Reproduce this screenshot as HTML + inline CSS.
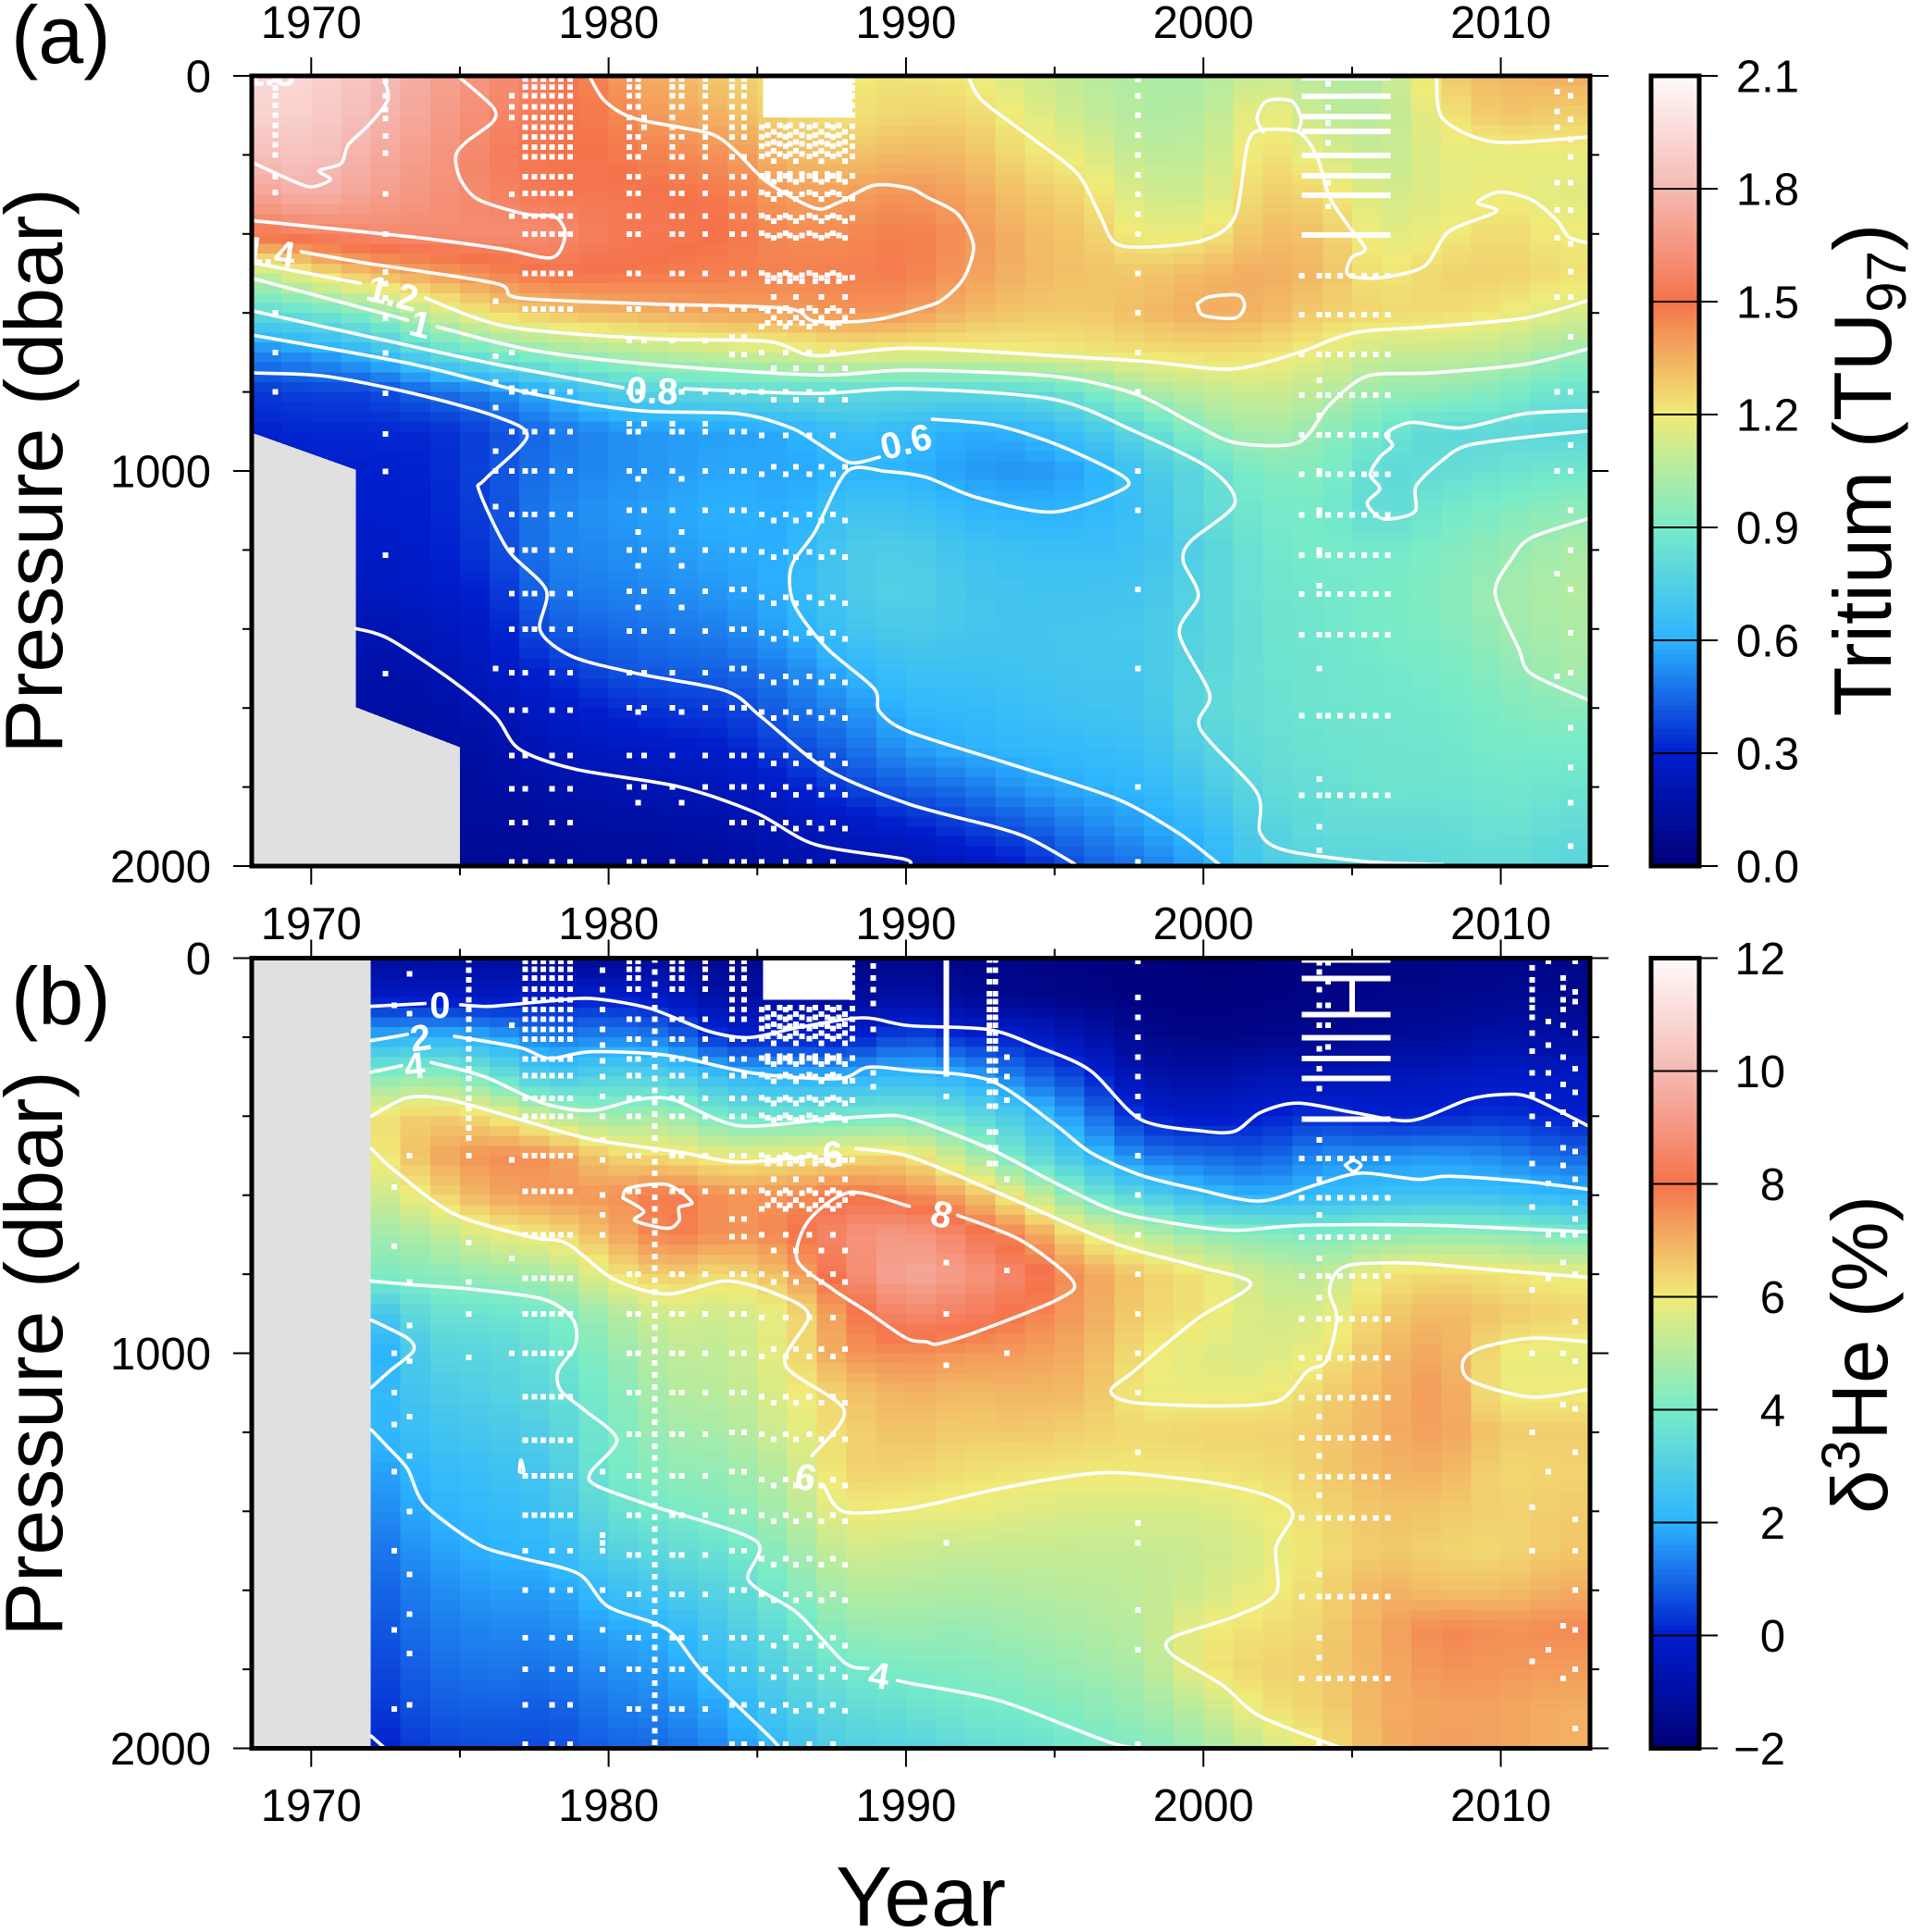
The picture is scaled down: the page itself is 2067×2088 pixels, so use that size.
<!DOCTYPE html>
<html lang="en">
<head>
<meta charset="utf-8">
<title>Tritium and delta-3He sections</title>
<style>
html,body{margin:0;padding:0;background:#fff;}
svg{display:block;font-family:"Liberation Sans",sans-serif;}
</style>
</head>
<body>
<svg id="chart" xmlns="http://www.w3.org/2000/svg" width="2067" height="2088" viewBox="0 0 2067 2088">
<defs>
<clipPath id="clip-a"><rect x="272" y="82" width="1446" height="854"/></clipPath>
<clipPath id="clip-b"><rect x="272" y="1035.5" width="1446" height="854"/></clipPath>
</defs>
<rect width="2067" height="2088" fill="#fff"/>
<g id="heat-a" clip-path="url(#clip-a)" shape-rendering="crispEdges"></g>
<g id="heat-b" clip-path="url(#clip-b)" shape-rendering="crispEdges"></g>
<g id="dots-a" clip-path="url(#clip-a)" shape-rendering="crispEdges"></g>
<g id="dots-b" clip-path="url(#clip-b)" shape-rendering="crispEdges"></g>
<g id="contours-a" clip-path="url(#clip-a)"></g>
<g id="contours-b" clip-path="url(#clip-b)"></g>
<g id="axes"></g>
<g id="bars"></g>
<text x="12" y="68" font-size="88">(a)</text>
<text x="12" y="1107" font-size="88">(b)</text>
<text transform="translate(67,509) rotate(-90)" text-anchor="middle" font-size="88">Pressure (dbar)</text>
<text transform="translate(67,1463) rotate(-90)" text-anchor="middle" font-size="88">Pressure (dbar)</text>
<text x="995" y="2081" text-anchor="middle" font-size="91">Year</text>
<text transform="translate(2043,508) rotate(-90)" text-anchor="middle" font-size="88">Tritium (TU<tspan font-size="60" dy="16">97</tspan><tspan dy="-16">)</tspan></text>
<text transform="translate(2039,1464) rotate(-90)" text-anchor="middle" font-size="85" font-family="'Liberation Sans','DejaVu Sans',sans-serif">δ<tspan font-size="58" dy="-30">3</tspan><tspan dy="30">He (%)</tspan></text>
</svg>
<script>
/* ---------- axis tick data ---------- */
const yearMajorTicks = [1970,1980,1990,2000,2010];
const yearMinorTicks = [1975,1985,1995,2005];
const pressureMajorTicks = [0,1000,2000];
const pressureMinorTicks = [200,400,600,800,1200,1400,1600,1800];

/* ---------- heatmap grid axes ---------- */
const gridPressures = [0,100,200,300,400,500,600,700,800,900,1000,1100,1200,1300,1400,1500,1600,1700,1800,1900,2000];
const tritiumGridYears = [1968,1970,1972,1974,1976,1978,1980,1982,1984,1986,1988,1990,1992,1994,1996,1998,2000,2002,2004,2006,2008,2010,2012,2014];
const heliumGridYears = [1972,1974,1976,1978,1980,1982,1984,1986,1988,1990,1992,1994,1996,1998,2000,2002,2004,2006,2008,2010,2012,2014];

/* ---------- tritium (TU97), one row per grid year, top to bottom ---------- */
const tritiumValues = [
[1.95,1.92,1.82,1.70,1.52,1.05,.80,.50,.35,.30,.28,.27,.26,.25,.24,.22,.20,.18,.16,.14,.12],
[1.93,1.90,1.85,1.77,1.57,1.22,.85,.55,.37,.32,.30,.28,.27,.26,.24,.22,.20,.18,.16,.14,.12],
[1.83,1.80,1.75,1.70,1.60,1.33,.95,.63,.37,.32,.30,.29,.27,.24,.20,.17,.15,.14,.12,.11,.10],
[1.72,1.70,1.67,1.64,1.61,1.39,1.10,.80,.45,.32,.31,.30,.29,.27,.23,.19,.16,.14,.12,.11,.10],
[1.62,1.60,1.56,1.58,1.61,1.45,1.24,.90,.50,.38,.39,.38,.36,.32,.28,.25,.20,.16,.14,.12,.10],
[1.55,1.52,1.50,1.52,1.61,1.50,1.30,.98,.60,.47,.48,.50,.50,.47,.42,.33,.27,.22,.17,.13,.10],
[1.43,1.47,1.50,1.52,1.53,1.50,1.33,1.03,.72,.52,.52,.54,.52,.50,.45,.40,.32,.25,.19,.15,.12],
[1.33,1.38,1.45,1.50,1.52,1.48,1.36,1.08,.78,.55,.55,.57,.55,.52,.48,.43,.35,.28,.21,.15,.12],
[1.28,1.33,1.42,1.48,1.50,1.47,1.38,1.12,.80,.56,.58,.60,.58,.55,.50,.44,.36,.30,.23,.17,.13],
[1.22,1.25,1.32,1.39,1.44,1.46,1.39,1.14,.82,.58,.57,.58,.59,.60,.58,.50,.45,.38,.29,.22,.17],
[1.20,1.22,1.30,1.39,1.44,1.47,1.42,1.20,.80,.66,.60,.68,.72,.72,.68,.60,.52,.45,.37,.25,.19],
[1.22,1.26,1.33,1.42,1.48,1.48,1.41,1.18,.79,.63,.60,.68,.74,.76,.73,.67,.62,.55,.43,.30,.19],
[1.20,1.26,1.32,1.38,1.42,1.40,1.33,1.18,.79,.58,.55,.62,.68,.70,.70,.67,.63,.60,.47,.36,.24],
[1.13,1.18,1.23,1.29,1.33,1.33,1.29,1.19,.80,.60,.53,.60,.66,.68,.69,.68,.66,.62,.55,.42,.30],
[1.07,1.10,1.17,1.25,1.29,1.30,1.28,1.21,.88,.68,.57,.61,.65,.68,.70,.70,.68,.64,.59,.50,.42],
[1.03,1.04,1.07,1.12,1.18,1.29,1.32,1.23,1.02,.80,.70,.66,.67,.69,.71,.70,.69,.66,.62,.56,.48],
[1.03,1.05,1.08,1.12,1.19,1.33,1.36,1.24,1.08,.95,.81,.81,.76,.78,.77,.78,.80,.76,.70,.63,.58],
[1.12,1.21,1.24,1.28,1.32,1.36,1.34,1.23,1.12,1.03,.93,.89,.87,.86,.85,.85,.84,.83,.81,.76,.72],
[1.05,1.08,1.16,1.25,1.30,1.32,1.27,1.18,1.07,.97,.93,.90,.90,.88,.87,.86,.86,.85,.83,.82,.78],
[1.05,1.06,1.08,1.12,1.16,1.20,1.25,1.10,.98,.87,.80,.80,.88,.90,.90,.88,.87,.86,.86,.82,.78],
[1.27,1.20,1.17,1.16,1.19,1.26,1.24,1.10,.97,.79,.82,.88,.92,.93,.92,.90,.88,.87,.85,.82,.80],
[1.33,1.30,1.17,1.20,1.25,1.27,1.21,1.08,.92,.80,.85,.92,.97,1.00,.99,.95,.92,.90,.88,.85,.82],
[1.35,1.27,1.18,1.16,1.20,1.23,1.15,1.00,.85,.78,.87,.96,1.02,1.04,1.03,1.01,.95,.90,.86,.82,.78],
[1.36,1.26,1.18,1.16,1.20,1.22,1.13,.97,.84,.78,.88,.97,1.04,1.06,1.05,1.02,.95,.89,.85,.81,.77]
];

/* ---------- delta-3He (%), one row per grid year, top to bottom ---------- */
const heliumValues = [
[-1.2,-.2,1.9,4.2,6.0,5.8,5.2,4.6,4.1,2.4,1.6,2.0,2.0,1.6,1.3,1.0,.8,.6,.4,.2,-.1],
[-1.1,-.3,2.1,4.6,6.6,7.0,6.2,5.0,4.3,3.6,3.1,2.8,2.5,2.2,2.0,1.7,1.4,1.2,1.0,.8,.5],
[-1.1,-.3,1.9,3.9,6.2,7.6,7.1,5.8,4.6,3.7,3.2,3.0,2.7,2.4,2.2,2.0,1.7,1.4,1.2,.9,.6],
[-1.3,-.1,1.2,2.6,5.2,7.5,7.4,6.1,4.8,3.9,3.6,3.3,3.0,2.7,2.4,2.1,1.7,1.4,1.1,.8,.6],
[-1.4,0,1.4,3.1,4.6,6.4,7.4,6.9,6.0,4.8,4.4,4.1,4.0,3.9,3.5,3.0,2.3,1.8,1.5,1.2,.9],
[-1.2,-.3,1.2,3.0,4.8,6.2,8.0,7.9,6.6,5.6,5.2,5.0,4.7,4.4,4.0,3.4,2.8,2.0,1.7,1.4,1.0],
[-1.5,-1.0,0,2.2,3.8,5.8,7.4,7.4,6.2,5.4,5.2,5.1,4.8,4.5,4.2,3.7,3.2,2.8,2.4,1.9,1.5],
[-1.5,-1.0,.1,2.0,3.7,6.0,7.5,7.7,6.9,5.9,6.0,5.8,5.6,5.2,4.9,4.5,4.1,3.6,3.2,2.8,2.4],
[-1.7,-1.2,-.2,2.0,3.9,6.2,8.0,8.8,8.5,7.7,7.4,6.6,6.4,6.4,6.0,5.5,5.0,4.5,3.9,3.4,3.0],
[-1.6,-.9,.7,2.3,4.0,6.3,7.7,9.2,9.6,8.7,7.6,7.0,6.7,6.4,5.9,5.4,5.0,4.6,4.1,3.6,3.1],
[-1.7,-1.3,.1,2.0,3.5,5.1,7.0,8.4,9.1,8.4,7.4,6.8,6.5,6.2,5.9,5.3,4.9,4.5,4.2,3.9,3.4],
[-1.7,-1.5,0,1.1,2.6,3.6,5.6,7.5,8.4,7.9,7.3,6.9,6.6,6.1,5.7,5.3,5.0,4.7,4.4,4.0,3.6],
[-1.8,-1.7,-.7,.4,1.4,2.4,4.0,6.0,7.3,7.2,7.0,6.8,6.4,6.05,5.6,5.3,5.1,4.9,4.6,4.3,3.9],
[-1.9,-1.8,-1.5,-.8,0,1.2,3.0,5.2,6.5,6.4,6.1,5.9,6.3,6.05,5.6,5.3,5.2,5.1,4.9,4.6,4.2],
[-2.0,-1.9,-1.7,-1.0,-.2,1.0,2.2,4.5,6.1,6.1,5.7,5.9,6.4,6.1,5.6,5.4,5.5,6.0,6.05,5.2,4.7],
[-2.0,-1.8,-1.6,-.6,0,.8,1.9,4.3,5.3,5.5,5.6,5.9,6.4,6.2,5.9,5.7,5.9,6.2,6.4,6.1,5.4],
[-1.8,-1.7,-1.5,-.6,.3,1.5,2.2,4.1,5.1,5.6,5.95,6.4,6.5,6.5,6.3,6.2,6.3,6.4,6.5,6.4,6.1],
[-1.7,-1.6,-1.3,-.5,0,1.5,2.4,4.4,6.1,6.5,6.8,6.9,7.0,6.9,6.7,6.6,7.0,7.1,7.0,7.0,7.0],
[-1.7,-1.6,-1.2,-.4,.1,1.6,2.5,4.5,6.3,6.9,7.2,7.4,7.3,7.0,6.6,6.4,6.7,7.7,7.5,7.2,7.3],
[-1.6,-1.4,-.9,-.2,.3,1.4,2.4,4.5,6.1,6.6,6.0,5.9,6.5,6.3,6.4,6.3,6.7,7.5,7.4,7.2,7.2],
[-1.6,-1.5,-1.0,-.3,0,1.0,2.1,4.1,5.9,6.4,5.8,6.0,6.5,6.4,6.5,6.6,7.0,7.6,7.3,7.0,7.0],
[-1.6,-1.5,-1.0,-.3,0,.9,2.0,4.0,5.8,6.4,5.8,6.0,6.5,6.4,6.6,6.7,7.1,7.6,7.3,7.0,7.0]
];

/* ---------- missing-data masks (year, pressure) ---------- */
const tritiumMask = [[1968,903],[1971.5,997],[1971.5,1598],[1975,1699],[1975,2000],[1968,2000]];
const heliumMask = [[1968,0],[1972,0],[1972,2000],[1968,2000]];

/* ---------- tritium contour lines (year, pressure) ---------- */
const tritiumContours = [
[[1968.1,222],[1969.27,262],[1970,281],[1970.65,262],[1970.26,240],[1971,222],[1971.25,174],[1971.95,123],[1972.58,60],[1972.44,6],[1972.4,0]],
[[1975.02,6],[1976.11,79],[1976.11,116],[1975.22,167],[1974.86,203],[1975.02,262],[1975.62,313],[1977.2,350],[1978.2,357],[1978.54,401],[1978.1,460],[1976.41,438],[1973.43,408],[1968.1,367]],
[[1979.39,6],[1979.88,64],[1980.88,108],[1983.36,145],[1984.25,189],[1985.34,269],[1986.93,335],[1987.72,321],[1988.92,277],[1990.1,284],[1990.68,306],[1991.74,350],[1992.27,430],[1991.95,511],[1991.31,562],[1990.68,584],[1988.92,618],[1986.93,621],[1985.94,588],[1981.37,577],[1977,562],[1976.2,525],[1971.85,474],[1969.66,445]],
[[1999.79,577],[2000,606],[2001.06,613],[2001.38,584],[2001.17,555],[2000.21,559],[1999.79,577]],
[[1968.1,474],[1971.65,525]],
[[1973.83,562],[1976.61,635],[1981.37,665],[1985.34,672],[1986.93,708],[1990.1,689],[1994.92,708],[1998.09,723],[2000.95,742],[2003.18,701],[2005.08,650],[2007.63,635],[2010.81,613],[2012.92,569]],
[[1992.12,6],[1992.58,64],[1994.28,160],[1995.76,247],[1996.5,350],[1997.03,423],[1998.09,433],[2000,416],[2001.06,357],[2001.48,174],[2001.91,138],[2003.18,142],[2003.81,203],[2004.24,306],[2004.87,379],[2005.44,438],[2004.98,460],[2004.87,504],[2005.93,511],[2007.42,482],[2008.26,394],[2009.85,343],[2009.22,321],[2009.96,294],[2011.02,313],[2011.86,364],[2012.29,408],[2012.92,423]],
[[2003.18,142],[2003.28,108],[2002.97,64],[2002.12,64],[2001.8,108],[2002.01,142]],
[[2007.84,6],[2008.05,108],[2009.75,167],[2012.92,155]],
[[1968.1,514],[1973.24,618]],
[[1974.23,635],[1977.4,694],[1981.37,730],[1986.93,757],[1990.1,745],[1994.92,760],[1997.67,804],[1999.58,877],[2001.06,928],[2003.18,928],[2004.24,833],[2005.51,760],[2007.63,752],[2010.81,730],[2012.92,691]],
[[2012.92,1121],[2011.02,1169],[2010.38,1221],[2009.81,1309],[2010.59,1448],[2011.02,1513],[2012.92,1579]],
[[1968.1,596],[1972.64,672],[1976.21,730],[1980.48,789]],
[[1982.56,792],[1986.93,804],[1990.1,792],[1994.92,818],[1997.67,899],[2000.21,994],[2001.06,1082],[1999.58,1177],[1999.32,1228],[1999.83,1316],[1999.19,1411],[2000.21,1565],[1999.89,1652],[2001.8,1814],[2001.91,1916],[2002.75,1960],[2005.51,1989],[2008.05,1996]],
[[2012.92,847],[2010.81,855],[2008.69,891],[2006.99,877],[2006.14,906],[2006.36,935],[2005.93,965],[2005.61,1009],[2005.93,1045],[2005.51,1082],[2006.04,1121],[2007.1,1104],[2007.16,1038],[2008.05,972],[2008.9,935],[2011.02,913],[2012.92,899]],
[[1968.1,657],[1973.43,730],[1977.4,804],[1980.98,847],[1984.35,855],[1986.14,891],[1987.13,935],[1988.12,979],[1989.11,965]],
[[1990.89,869],[1993,884],[1995.13,935],[1997.35,1016],[1997.14,1052],[1994.92,1104],[1992.37,1067],[1990.68,1016],[1989.31,1001],[1988.02,1001],[1986.93,1155],[1986.14,1243],[1986.24,1338],[1987.33,1448],[1988.92,1550],[1989.11,1609],[1990.1,1660],[1993.43,1740],[1997.03,1828],[1999.15,1916],[2000.42,1989],[2000.6,2000]],
[[1968.1,752],[1970.46,760],[1973.43,804],[1976.21,862],[1977.26,913],[1975.82,1023],[1975.66,1052],[1976.61,1199],[1977.9,1301],[1977.7,1404],[1978.79,1470],[1980.98,1513],[1983.95,1557],[1985.14,1623],[1987.33,1755],[1990.1,1843],[1993,1901],[1994.17,1931],[1995.55,1989],[1995.7,2000]],
[[1971.51,1399],[1972.64,1426],[1974.82,1535],[1976.21,1623],[1977,1704],[1978.89,1755],[1982.37,1799],[1984.95,1865],[1986.93,1945],[1989.91,1982],[1990.1,2000]]
];

/* ---------- helium contour lines (year, pressure) ---------- */
const heliumContours = [
[[1972.02,122],[1973.83,115]],
[[1975.02,118],[1976.01,122],[1977.8,110],[1979.39,102],[1981.37,127],[1983.36,185],[1984.75,201],[1986.34,176],[1988.52,151],[1990.11,171],[1992.8,181],[1994.49,226],[1996.19,284],[1997.88,408],[2000,438],[2001.06,438],[2001.91,391],[2003.18,367],[2005.08,391],[2006.99,411],[2008.9,358],[2010.06,345],[2011.02,353],[2012.92,424]],
[[1972.02,209],[1973.24,193]],
[[1974.82,198],[1977,226],[1978,254],[1979.39,237],[1981.97,246],[1984.95,292],[1987.73,305],[1988.72,276],[1990.11,284],[1992.8,309],[1994.92,416],[1996.19,491],[1997.88,549],[1999.79,585],[2001.91,615],[2003.81,573],[2005.3,544],[2007.2,560],[2008.26,552],[2010.81,565],[2012.92,585]],
[[1972.02,289],[1973.04,272]],
[[1974.03,264],[1975.82,300],[1977.8,367],[1979.39,386],[1980.98,358],[1982.17,358],[1984.35,424],[1987.33,408],[1988.92,400],[1990.11,405],[1992.8,482],[1994.92,565],[1997.03,640],[1999.15,673],[2001.06,689],[2003.39,676],[2007.63,676],[2012.92,693]],
[[1972.02,400],[1973.24,353],[1974.62,358],[1977,408],[1979.39,458],[1982.37,491],[1984.35,516],[1986.73,502]],
[[1988.32,482],[1990.11,502],[1993.22,598],[1997.03,722],[1999.79,780],[2001.59,825],[1999.79,913],[1997.67,1045],[1996.89,1095],[1997.67,1125],[2000.64,1133],[2002.54,1120],[2003.5,1045],[2004.13,1020],[2004.49,913],[2004.24,846],[2004.45,797],[2005.08,775],[2006.99,772],[2009.75,789],[2012.92,808]],
[[1972.02,482],[1972.84,540],[1974.82,648],[1977.4,706],[1978.59,722],[1980.18,813],[1981.97,850],[1983.95,817],[1985.54,847],[1986.73,904],[1985.94,1029],[1987.92,1144],[1986.83,1260]],
[[1987.23,1335],[1987.92,1401],[1990.11,1393],[1992.8,1348],[1994.92,1318],[1997.03,1302],[2000.21,1327],[2002.12,1360],[2003.01,1406],[2002.44,1492],[2002.44,1608],[2001.06,1666],[1998.94,1720],[1998.94,1762],[2000.64,1840],[2001.91,1919],[2004.56,1997]],
[[1980.48,607],[1980.68,582],[1981.97,573],[1982.8,618],[1982.37,631],[1982.37,664],[1981.97,684],[1980.88,664],[1981.18,640],[1980.48,607]],
[[1990.11,628],[1988.12,593],[1986.73,664],[1986.34,764],[1987.53,838],[1988.72,896],[1990.01,962],[1990.68,971],[1991.1,976],[1992.48,943],[1995.13,863],[1995.61,817],[1993.86,714],[1991.74,651]],
[[2012.92,971],[2011.02,962],[2009.32,987],[2008.73,1020],[2009,1070],[2011.02,1111],[2012.92,1092]],
[[1972.02,817],[1973.43,827],[1975.42,838],[1977.8,863],[1978.79,913],[1978.89,979],[1978.3,1045],[1978.4,1095],[1979.19,1144],[1980.28,1219],[1979.39,1302],[1979.59,1335],[1981.37,1384],[1984.95,1475],[1984.71,1575],[1986.34,1657],[1987.92,1782],[1988.72,1798]],
[[1989.71,1828],[1990.11,1835],[1993.22,1881],[1997.03,1989],[1998.73,2000]],
[[1972.02,916],[1973.24,962],[1973.43,995],[1972.64,1045],[1972.02,1087]],
[[1972.02,1194],[1972.54,1235],[1973.24,1293],[1973.83,1384],[1975.62,1484],[1977,1517],[1978.99,1558],[1979.98,1641],[1981.97,1699],[1983.16,1806],[1985.54,1980],[1985.64,2000]],
[[1972.02,1969],[1972.44,1997]],
[[2004.77,524],[2005.04,512],[2005.3,524],[2005.04,540],[2004.77,524]],
[[1977,1300],[1977.05,1270],[1977.15,1300],[1977,1300]]
];

/* ---------- contour labels: text, year, pressure, tilt ---------- */
const tritiumLabelText = ["1.8","1.4","1.2","1","0.8","0.6"];
const tritiumLabelYear = [1968.6,1968.6,1972.74,1973.67,1981.47,1990];
const tritiumLabelPressure = [-8,445,550,628,796,925];
const tritiumLabelTilt = [0,8,14,14,2,-14];
const heliumLabelText = ["0","2","4","6","6","4","8"];
const heliumLabelYear = [1974.33,1973.67,1973.47,1987.53,1986.63,1989.1,1991.2];
const heliumLabelPressure = [118,201,272,496,1313,1815,648];
const heliumLabelTilt = [0,-8,-6,-3,12,10,14];

/* ---------- sampling stations: years crossed with pressures ---------- */
const upperLevels = [8,28,50,78,105,130,155,180,205,255,298,355,400,500,590];
const tritiumStations = [
{years:[1968.8],p:[10,30,50,75,100,125,150,175,200,255,295,600,700,800]},
{years:[1972.5],p:[13,50,86,108,152,196,299,401,496,526,562,613,701,803,906,1001,1213,1513]},
{years:[1977.2,1977.5,1977.8,1978.1,1978.4,1978.7],p:upperLevels},
{years:[1976.75],p:[50,78,105,300,355,700,790]},
{years:[1976.2],p:[570,710,775,840,950,1000,1090,1500]},
{years:[1976.75,1977.2,1977.5,1978.1,1978.7],p:[800,900,1000,1110,1200,1310,1400]},
{years:[1976.75,1977.2,1978.1,1978.7],p:[1510,1605,1720,1805,1890,1990]},
{years:[1980.7,1981,1982.15,1982.45,1983.25],p:[8,28,50,78,155,205,255,298,355,400,500,590,800,900]},
{years:[1980.7,1981.2,1982.15,1983.25],p:[105,130,180,670,880,1000,1100,1200,1305,1405,1510,1600,1720,1800,1990]},
{years:[1981,1982.45],p:[1020,1155,1240,1345,1610,1840]},
{years:[1984.15,1984.55],p:[8,28,50,78,105,130,155,205,255,298,355,400,500,590,660,705,800,900,1000,1100,1200,1300,1400,1500,1600,1720,1800,1890,1990]},
{years:[1985.15,1985.95,1986.75,1987.55],p:[130,155,178,204,253,295,354,398,499,588,635,700,800,910,1008,1110,1205,1320,1410,1520,1610,1720,1800,1890,1990]},
{years:[1985.55,1986.3,1987.15,1987.95],p:[142,168,190,215,268,312,368,410,512,560,612,740,820,990,1125,1218,1335,1425,1535,1625,1740,1820,1905]},
{years:[1985.35,1985.75,1986.1,1986.5,1986.95,1987.35,1987.75],p:[125,150,172,198,248,262,300,358,404,505,520,595,625]},
{years:[1988.2],p:[10,30,50,75,100,128,155,178,204,253,310,360,510,595]},
{years:[1997.8],p:[8,50,100,150,200,250,300,350,400,500,600,700,800,1000,1100,1300,1500,1800,1990]},
{years:[2003.3,2003.9,2004.2,2004.6,2005,2005.4,2005.8,2006.2],p:[506,604,705,808,909,1008,1111,1213,1311,1414,1619,1821]},
{years:[2003.9],p:[770,860,1000,1100,1200,1290,1500,1780,1900,1960]},
{years:[2004.2],p:[20,80,120,170,270,330]},
{years:[2011.9],p:[40,90,130,270,340,410,560,800,1000,1260,1520]},
{years:[2012.35],p:[8,50,110,160,205,270,340,425,495,560,660,800,935,1000,1100,1200,1300,1410,1510,1650,1750,1840,1950]}
];
const heliumStations = [
{years:[1973.3],p:[40,140,500,820,930,1020,1160,1260,1400,1560,1660,1760,1890]},
{years:[1972.8],p:[120,580,730,1000,1100,1180,1300,1500,1700,1900]},
{years:[1975.3],p:[5,30,55,80,105,130,155,180,205,230,255,280,305,330,355,380,405,430,455,500,720,820,900,1010]},
{years:[1977.2,1977.5,1977.8,1978.1,1978.4,1978.7],p:upperLevels.concat([700,810,900,1000,1110,1220,1310,1410])},
{years:[1976.75],p:[170,510,760,1000]},
{years:[1977.2,1978.1,1978.7],p:[1500,1600,1720,1800,1890,1990]},
{years:[1979.8],p:[30,80,130,180,220,260,300,350,400,460,510,600,650,700,1300,1460,1480,1500,1600,1700,1800]},
{years:[1980.7,1981,1982.15,1982.45,1983.25],p:[8,28,50,78,155,205,255,298,355,400,500,590,800,900,1000,1100,1205,1310,1410,1510,1610,1720,1800,1900]},
{years:[1981.55],p:[5,35,65,95,125,155,185,215,245,275,305,335,365,395,425,455,485,515,545,575,605,635,665,695,725,755,785,815,845,875,905,935,965,995,1025,1055,1085,1115,1145,1175,1205,1235,1265,1295,1325,1355,1385,1415,1445,1475,1505,1535,1565,1595,1625,1655,1685,1715,1745,1775,1805,1835,1865,1895,1925,1955,1985]},
{years:[1984.15,1984.55],p:[8,28,50,78,105,130,155,205,255,298,355,400,500,590,660,705,800,900,1000,1100,1200,1300,1400,1500,1600,1720,1800,1890,1990]},
{years:[1985.15,1985.95,1986.75,1987.55],p:[130,155,178,204,253,295,354,398,499,588,635,700,800,910,1008,1110,1205,1320,1410,1520,1610,1720,1800,1890,1990]},
{years:[1985.55,1986.3,1987.15,1987.95],p:[142,168,190,215,268,312,368,410,512,560,612,740,820,990,1125,1218,1335,1425,1535,1625,1740,1820,1905]},
{years:[1985.35,1985.75,1986.1,1986.5,1986.95,1987.35,1987.75],p:[125,150,172,198,248,262,300,358,404,505,520,595,625]},
{years:[1988.2],p:[10,30,50,75,100,128,155,178,204,253,310,360,510,595]},
{years:[1988.9],p:[20,50,80,115,180,290,325]},
{years:[1992.8,1993],p:[5,30,60,90,110,130,150,170,190,210,230,260,285,310,340,375,440,480,520]},
{years:[1993.4],p:[250,300,360,560,790,1000]},
{years:[1991.35],p:[350,770,900,1030,1480]},
{years:[1997.8],p:[8,100,150,200,250,300,350,400,500,600,700,800,900,1000,1100,1250,1430,1480,1650,1750,1990]},
{years:[2003.3,2003.9,2004.2,2004.6,2005,2005.4,2005.8,2006.2],p:[507,606,706,805,913,1012,1112,1214,1313,1417,1616,1823]},
{years:[2003.9],p:[12,35,80,120,170,230,280,330,460,560,650,760,860,1060,1160,1260,1360,1560,1720,1770,1990]},
{years:[2004.2],p:[12,60,120,170,225]},
{years:[2011.05],p:[25,55,80,105,125,150,190,235,290,345,400,520,630,840,1000,1200,1390,1500,1780]},
{years:[2011.6],p:[8,160,220,290,350,420,570,700,810,1300,1750]},
{years:[2012.1],p:[50,75,105,130,170,250,320,390,480,525,700,770,1000,1130,1690,1823]},
{years:[2012.5],p:[8,85,110,190,280,340,420,490,560,620,660,700,800,920,1020,1140,1250,1420,1500,1600,1700,1800,1950]}
];

/* ---------- horizontal sampling streaks and dense blocks ---------- */
const tritiumStreakPressures = [5,51,103,140,201,253,302,403];
const heliumStreakPressures = [5,52,143,201,254,304,408];
const streakYears = [2003.3,2006.3];
const denseBlockYears = [1985.2,1988.2];
const denseBlockPressures = [0,105];
const heliumVerticalStreakYears = [1991.35,2005.0];
const heliumVerticalStreakPressures = [[0,300],[45,150]];

/* ---------- colorbar data ---------- */
const tritiumBarTicks = [0,.3,.6,.9,1.2,1.5,1.8,2.1];
const tritiumBarLabels = ["0.0","0.3","0.6","0.9","1.2","1.5","1.8","2.1"];
const heliumBarTicks = [-2,0,2,4,6,8,10,12];
const heliumBarLabels = ["\u22122","0","2","4","6","8","10","12"];
const colorStops = [[0,0,120],[0,30,205],[45,180,255],[120,235,200],[240,235,120],[245,115,75],[245,185,180],[255,250,250]];

/* ---------- scales ---------- */
const NS = "http://www.w3.org/2000/svg";
const plotLeft = 272, plotRight = 1718, plotH = 854, topA = 82, topB = 1035.5;
function xScale(year){ return plotLeft + (year-1968)*(plotRight-plotLeft)/45; }
function yScale(top,p){ return top + p*plotH/2000; }
function make(tag,attrs,parent){
  const el = document.createElementNS(NS,tag);
  for(const k in attrs) el.setAttribute(k,attrs[k]);
  parent.appendChild(el);
  return el;
}
function colorAt(t){
  t = Math.max(0,Math.min(1,t))*(colorStops.length-1);
  const i = Math.min(colorStops.length-2,Math.floor(t)), f = t-i;
  const a = colorStops[i], b = colorStops[i+1];
  return "rgb("+Math.round(a[0]+(b[0]-a[0])*f)+","+Math.round(a[1]+(b[1]-a[1])*f)+","+Math.round(a[2]+(b[2]-a[2])*f)+")";
}
function gridSample(values,years,year,p){
  let i = 0;
  while(i<years.length-2 && year>years[i+1]) i++;
  let j = 0;
  while(j<gridPressures.length-2 && p>gridPressures[j+1]) j++;
  const fx = Math.max(0,Math.min(1,(year-years[i])/(years[i+1]-years[i])));
  const fy = Math.max(0,Math.min(1,(p-gridPressures[j])/(gridPressures[j+1]-gridPressures[j])));
  const top = values[i][j]*(1-fx)+values[i+1][j]*fx;
  const bot = values[i][j+1]*(1-fx)+values[i+1][j+1]*fx;
  return top*(1-fy)+bot*fy;
}

/* ---------- heatmaps ---------- */
function drawHeat(groupId,top,values,years,vMin,vMax,startYear,mask){
  const g = document.getElementById(groupId);
  for(let yr=startYear; yr<2013; yr++){
    for(let p=0; p<2000; p+=25){
      const v = gridSample(values,years,yr+0.5,p+12.5);
      const r = make("rect",{x:xScale(yr).toFixed(1),y:yScale(top,p).toFixed(1),width:(xScale(yr+1)-xScale(yr)+0.6).toFixed(1),height:(plotH/80+0.6).toFixed(1),fill:colorAt((v-vMin)/(vMax-vMin))},g);
      
      
    }
  }
  const pts = mask.map(function(m){ return xScale(m[0]).toFixed(1)+","+yScale(top,m[1]).toFixed(1); }).join(" ");
  const poly = make("polygon",{points:pts,fill:"#e0e0e0"},g);
  
  
}
drawHeat("heat-a",topA,tritiumValues,tritiumGridYears,0,2.1,1968,tritiumMask);
drawHeat("heat-b",topB,heliumValues,heliumGridYears,-2,12,1972,heliumMask);

/* ---------- sample points ---------- */
function drawDots(groupId,top,stations,streaks,verticals,verticalRanges){
  const g = document.getElementById(groupId);
  stations.forEach(function(st){
    st.years.forEach(function(yr){
      st.p.forEach(function(p){
        const d = make("rect",{x:(xScale(yr)-3).toFixed(1),y:(yScale(top,p)-3).toFixed(1),width:6,height:6,fill:"#fff"},g);
        
        
      });
    });
  });
  streaks.forEach(function(p){
    const s = make("rect",{x:xScale(streakYears[0]).toFixed(1),y:(yScale(top,p)-3).toFixed(1),width:(xScale(streakYears[1])-xScale(streakYears[0])).toFixed(1),height:6,fill:"#fff"},g);
    
    
  });
  verticals.forEach(function(yr,i){
    const s = make("rect",{x:(xScale(yr)-3).toFixed(1),y:yScale(top,verticalRanges[i][0]).toFixed(1),width:6,height:(yScale(top,verticalRanges[i][1])-yScale(top,verticalRanges[i][0])).toFixed(1),fill:"#fff"},g);
    
    
  });
  const b = make("rect",{x:xScale(denseBlockYears[0]).toFixed(1),y:yScale(top,denseBlockPressures[0]).toFixed(1),width:(xScale(denseBlockYears[1])-xScale(denseBlockYears[0])).toFixed(1),height:(yScale(top,denseBlockPressures[1])-yScale(top,denseBlockPressures[0])).toFixed(1),fill:"#fff"},g);
  
  
}
drawDots("dots-a",topA,tritiumStations,tritiumStreakPressures,[],[]);
drawDots("dots-b",topB,heliumStations,heliumStreakPressures,heliumVerticalStreakYears,heliumVerticalStreakPressures);

/* ---------- contours ---------- */
function smoothPath(points){
  let d = "M"+points[0][0].toFixed(1)+" "+points[0][1].toFixed(1);
  for(let i=0;i<points.length-1;i++){
    const p0 = points[Math.max(0,i-1)], p1 = points[i], p2 = points[i+1], p3 = points[Math.min(points.length-1,i+2)];
    const c1x = p1[0]+(p2[0]-p0[0])/7, c1y = p1[1]+(p2[1]-p0[1])/7;
    const c2x = p2[0]-(p3[0]-p1[0])/7, c2y = p2[1]-(p3[1]-p1[1])/7;
    d += "C"+c1x.toFixed(1)+" "+c1y.toFixed(1)+" "+c2x.toFixed(1)+" "+c2y.toFixed(1)+" "+p2[0].toFixed(1)+" "+p2[1].toFixed(1);
  }
  return d;
}
function drawContours(groupId,top,lines,texts,lx,lp,lt){
  const g = document.getElementById(groupId);
  lines.forEach(function(line){
    const pts = line.map(function(q){ return [xScale(q[0]),yScale(top,q[1])]; });
    const c = make("path",{d:smoothPath(pts),fill:"none",stroke:"#fff","stroke-width":3.6,"stroke-linejoin":"round","stroke-linecap":"round"},g);
    
    
  });
  texts.forEach(function(t,i){
    const X = xScale(lx[i]), Y = yScale(top,lp[i]);
    const e = make("text",{x:X.toFixed(1),y:(Y+14).toFixed(1),"text-anchor":"middle","font-size":40,"font-weight":"bold",fill:"#fff",transform:"rotate("+lt[i]+" "+X.toFixed(1)+" "+Y.toFixed(1)+")"},g);
    e.textContent = t;
    
    
  });
}
drawContours("contours-a",topA,tritiumContours,tritiumLabelText,tritiumLabelYear,tritiumLabelPressure,tritiumLabelTilt);
drawContours("contours-b",topB,heliumContours,heliumLabelText,heliumLabelYear,heliumLabelPressure,heliumLabelTilt);

/* ---------- axes ---------- */
const axes = document.getElementById("axes");
function tick(x1,y1,x2,y2,parent,name){
  const l = make("line",{x1:x1,y1:y1,x2:x2,y2:y2,stroke:"#000","stroke-width":2},parent);
  
  
}
function label(x,y,anchor,txt,parent,name){
  const t = make("text",{x:x,y:y,"text-anchor":anchor,"font-size":49,fill:"#000"},parent);
  t.textContent = txt;
  
  
}
function drawAxes(top){
  const bottom = top+plotH;
  yearMajorTicks.forEach(function(yr){
    tick(xScale(yr),top-20,xScale(yr),top,axes,'x-major-tick');
    tick(xScale(yr),bottom,xScale(yr),bottom+20,axes,'x-major-tick');
  });
  yearMinorTicks.forEach(function(yr){
    tick(xScale(yr),top-10,xScale(yr),top,axes,'x-minor-tick');
    tick(xScale(yr),bottom,xScale(yr),bottom+10,axes,'x-minor-tick');
  });
  pressureMajorTicks.forEach(function(p){
    const y = yScale(top,p);
    tick(plotLeft-20,y,plotLeft,y,axes,'y-major-tick');
    tick(plotRight,y,plotRight+20,y,axes,'y-major-tick');
    label(228,y+17.5,"end",String(p),axes,'y-tick-label');
  });
  pressureMinorTicks.forEach(function(p){
    const y = yScale(top,p);
    tick(plotLeft-10,y,plotLeft,y,axes,'y-minor-tick');
    tick(plotRight,y,plotRight+10,y,axes,'y-minor-tick');
  });
  const f = make("rect",{x:plotLeft,y:top,width:plotRight-plotLeft,height:plotH,fill:"none",stroke:"#000","stroke-width":5},axes);
  
  
}
drawAxes(topA);
drawAxes(topB);
yearMajorTicks.forEach(function(yr){
  label(xScale(yr),41,"middle",String(yr),axes,'x-tick-label');
  label(xScale(yr),1015,"middle",String(yr),axes,'x-tick-label');
  label(xScale(yr),1968,"middle",String(yr),axes,'x-tick-label');
});

/* ---------- colorbars ---------- */
const bars = document.getElementById("bars");
function drawBar(top,ticks,labels,vMin,vMax,labelRight,name){
  const barLeft = 1784, barRight = 1836;
  for(let i=0;i<ticks.length-1;i++){
    const y1 = top+plotH-(ticks[i+1]-vMin)/(vMax-vMin)*plotH;
    const y2 = top+plotH-(ticks[i]-vMin)/(vMax-vMin)*plotH;
    for(let k=0;k<24;k++){
      const r = make("rect",{x:barLeft,y:(y1+(y2-y1)*k/24).toFixed(1),width:barRight-barLeft,height:((y2-y1)/24+0.6).toFixed(1),fill:colorAt(((ticks[i+1]-(ticks[i+1]-ticks[i])*(k+0.5)/24)-vMin)/(vMax-vMin))},bars);
      
      
    }
  }
  ticks.forEach(function(v,i){
    const y = top+plotH-(v-vMin)/(vMax-vMin)*plotH;
    tick(barLeft,y,barRight+20,y,bars,name+'-tick');
    label(labelRight,y+17.5,"end",labels[i],bars,name+'-tick-label');
  });
  const f = make("rect",{x:barLeft,y:top,width:barRight-barLeft,height:plotH,fill:"none",stroke:"#000","stroke-width":5},bars);
  
  
}
drawBar(topA,tritiumBarTicks,tritiumBarLabels,0,2.1,1944,'tritium-colorbar');
drawBar(topB,heliumBarTicks,heliumBarLabels,-2,12,1929,'helium-colorbar');
</script>
</body>
</html>
